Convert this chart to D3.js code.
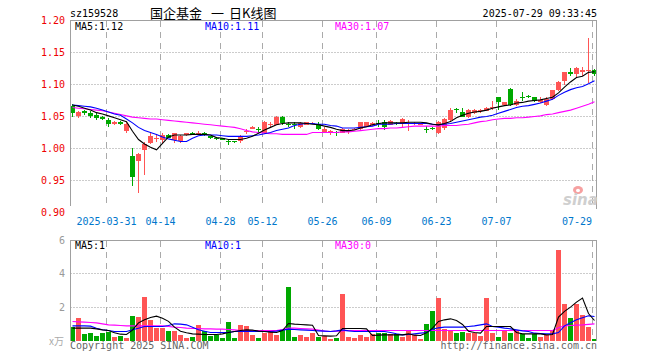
<!DOCTYPE html>
<html><head><meta charset="utf-8">
<script src="https://cdn.jsdelivr.net/npm/d3@7"></script>
<style>
body{margin:0;background:#fff}
svg{display:block}
text{font-family:"DejaVu Sans Mono",monospace;font-size:10px}
</style>
</head><body>
<svg id="c" width="660" height="360"></svg>
<script>
const code = "sz159528";
const titleParts = ["国企基金","一","日K线图"];
const stamp = "2025-07-29 09:33:45";

const dates = [
 "03-21","03-24","03-25","03-26","03-27","03-28","03-31",
 "04-01","04-02","04-03","04-07","04-08","04-09","04-10","04-11","04-14","04-15","04-16","04-17","04-18",
 "04-21","04-22","04-23","04-24","04-25","04-28","04-29","04-30",
 "05-06","05-07","05-08","05-09","05-12","05-13","05-14","05-15","05-16","05-19","05-20","05-21","05-22","05-23",
 "05-26","05-27","05-28","05-29","05-30",
 "06-03","06-04","06-05","06-06","06-09","06-10","06-11","06-12","06-13","06-16","06-17","06-18","06-19","06-20",
 "06-23","06-24","06-25","06-26","06-27","06-30",
 "07-01","07-02","07-03","07-04","07-07","07-08","07-09","07-10","07-11","07-14","07-15","07-16","07-17","07-18",
 "07-21","07-22","07-23","07-24","07-25","07-28","07-29"];

const openP = [1.067,1.051,1.058,1.056,1.052,1.050,1.045,1.039,1.041,1.027,
 0.989,0.980,0.997,1.008,1.016,1.014,1.021,1.014,1.011,1.021,
 1.024,1.024,1.025,1.019,1.016,1.016,1.011,1.011,1.011,1.026,
 1.031,1.031,1.024,1.037,1.037,1.050,1.039,1.038,1.034,1.037,
 1.039,1.038,1.026,1.024,1.026,1.025,1.026,1.030,1.030,1.034,
 1.036,1.040,1.041,1.037,1.040,1.040,1.038,1.038,1.037,1.031,
 1.032,1.024,1.032,1.044,1.061,1.057,1.050,1.055,1.059,1.059,
 1.064,1.080,1.068,1.093,1.068,1.081,1.082,1.080,1.072,1.068,
 1.077,1.091,1.106,1.119,1.117,1.119,1.122,1.123];
const closeP = [1.056,1.057,1.056,1.051,1.048,1.046,1.038,1.041,1.039,1.038,
 0.956,0.992,1.007,1.019,1.017,1.021,1.017,1.024,1.020,1.024,
 1.023,1.025,1.021,1.016,1.015,1.014,1.010,1.010,1.020,1.027,
 1.034,1.030,1.042,1.038,1.050,1.040,1.038,1.037,1.040,1.041,
 1.040,1.030,1.030,1.028,1.025,1.031,1.029,1.031,1.041,1.041,
 1.040,1.038,1.034,1.043,1.038,1.046,1.040,1.040,1.038,1.030,
 1.030,1.042,1.046,1.060,1.060,1.050,1.060,1.060,1.060,1.064,
 1.065,1.072,1.072,1.068,1.075,1.079,1.080,1.074,1.076,1.078,
 1.091,1.104,1.119,1.117,1.126,1.122,1.123,1.116];
const highP = [1.070,1.058,1.060,1.058,1.055,1.051,1.047,1.043,1.043,1.041,
 1.001,0.993,1.010,1.025,1.021,1.025,1.022,1.025,1.021,1.025,
 1.026,1.027,1.026,1.020,1.018,1.017,1.013,1.012,1.021,1.030,
 1.035,1.033,1.043,1.041,1.051,1.051,1.042,1.041,1.042,1.042,
 1.042,1.041,1.033,1.029,1.027,1.032,1.030,1.032,1.042,1.042,
 1.041,1.044,1.045,1.044,1.041,1.047,1.044,1.041,1.039,1.035,
 1.033,1.043,1.047,1.063,1.063,1.064,1.061,1.061,1.062,1.065,
 1.074,1.081,1.073,1.094,1.077,1.089,1.083,1.081,1.081,1.080,
 1.092,1.105,1.120,1.126,1.127,1.128,1.172,1.124];
const lowP = [1.050,1.047,1.053,1.048,1.045,1.044,1.033,1.037,1.036,1.025,
 0.941,0.931,0.959,1.007,1.010,1.008,1.016,1.009,1.008,1.020,
 1.021,1.022,1.020,1.015,1.013,1.013,1.006,1.008,1.009,1.023,
 1.030,1.025,1.022,1.034,1.036,1.036,1.033,1.030,1.032,1.036,
 1.038,1.029,1.025,1.021,1.019,1.024,1.022,1.029,1.029,1.033,
 1.035,1.034,1.029,1.036,1.037,1.034,1.028,1.037,1.036,1.025,
 1.029,1.023,1.029,1.043,1.055,1.049,1.048,1.054,1.055,1.058,
 1.060,1.060,1.066,1.066,1.066,1.074,1.079,1.073,1.071,1.067,
 1.076,1.090,1.100,1.114,1.112,1.114,1.102,1.114];

const ma5 = [1.068,1.066,1.063,1.060,1.056,1.054,1.051,1.048,1.045,1.042,
 1.027,1.014,1.007,1.002,0.998,1.008,1.018,1.021,1.021,1.021,
 1.022,1.022,1.022,1.021,1.017,1.016,1.014,1.014,1.014,1.016,
 1.019,1.024,1.029,1.033,1.037,1.039,1.040,1.040,1.040,1.039,
 1.038,1.037,1.035,1.033,1.030,1.028,1.028,1.029,1.032,1.034,
 1.037,1.039,1.040,1.040,1.040,1.040,1.041,1.041,1.041,1.040,
 1.038,1.037,1.039,1.042,1.048,1.052,1.055,1.057,1.058,1.060,
 1.063,1.065,1.067,1.068,1.071,1.072,1.074,1.075,1.076,1.078,
 1.080,1.087,1.096,1.104,1.111,1.113,1.119,1.120];
const ma10 = [1.068,1.067,1.066,1.065,1.063,1.060,1.057,1.054,1.052,1.046,
 1.040,1.033,1.028,1.025,1.022,1.018,1.015,1.013,1.011,1.011,
 1.016,1.020,1.021,1.021,1.021,1.020,1.019,1.019,1.019,1.019,
 1.020,1.021,1.023,1.025,1.028,1.030,1.032,1.036,1.038,1.039,
 1.039,1.038,1.038,1.036,1.035,1.032,1.032,1.032,1.033,1.034,
 1.035,1.038,1.038,1.038,1.039,1.039,1.039,1.039,1.039,1.039,
 1.038,1.037,1.038,1.039,1.041,1.043,1.045,1.047,1.049,1.050,
 1.052,1.055,1.058,1.061,1.064,1.066,1.067,1.069,1.071,1.074,
 1.077,1.083,1.088,1.092,1.095,1.097,1.101,1.106];
const ma30 = [1.064,1.063,1.062,1.061,1.060,1.059,1.057,1.055,1.053,1.051,
 1.049,1.048,1.047,1.046,1.046,1.045,1.044,1.043,1.042,1.041,
 1.040,1.039,1.038,1.037,1.036,1.035,1.034,1.033,1.031,1.028,
 1.026,1.025,1.024,1.023,1.023,1.022,1.022,1.022,1.022,1.022,
 1.025,1.025,1.025,1.025,1.025,1.026,1.026,1.027,1.028,1.029,
 1.030,1.031,1.031,1.032,1.032,1.033,1.034,1.035,1.035,1.035,
 1.035,1.035,1.036,1.036,1.036,1.037,1.038,1.040,1.042,1.043,
 1.045,1.046,1.047,1.047,1.048,1.048,1.049,1.050,1.051,1.053,
 1.054,1.056,1.058,1.060,1.063,1.066,1.069,1.073];

const volume = [0.80,1.36,0.40,0.46,0.28,0.46,0.54,0.20,0.28,0.16,
 1.48,1.42,2.62,1.24,0.76,0.76,0.58,0.58,0.34,0.16,
 0.22,0.92,0.58,0.28,0.34,0.16,1.12,0.16,0.94,0.88,
 0.34,0.16,0.48,0.58,0.34,0.64,3.22,0.22,0.34,0.22,
 0.46,0.22,0.28,0.10,0.16,2.80,0.22,0.16,0.34,0.22,
 0.40,0.48,0.48,0.40,0.40,0.24,0.64,0.34,0.10,1.00,
 1.78,2.56,0.70,0.58,0.46,0.52,0.46,0.46,0.28,2.56,
 0.46,0.22,0.64,0.46,0.64,0.40,0.16,0.40,0.22,0.34,
 0.64,5.44,2.20,1.36,2.20,1.54,0.82,0.10];
const vma5 = [0.74,0.74,0.74,0.74,0.70,0.64,0.60,0.46,0.38,0.36,
 0.62,1.06,1.25,1.38,1.46,1.34,1.15,0.80,0.56,0.46,
 0.40,0.38,0.36,0.36,0.36,0.40,0.48,0.54,0.60,0.64,
 0.62,0.56,0.54,0.50,0.48,0.60,1.02,0.98,0.96,0.94,
 0.92,0.30,0.28,0.26,0.28,0.72,0.72,0.72,0.72,0.70,
 0.30,0.32,0.34,0.34,0.34,0.34,0.40,0.32,0.30,0.46,
 0.74,1.14,1.24,1.30,1.20,0.96,0.56,0.48,0.44,0.84,
 0.84,0.84,0.84,0.84,0.48,0.40,0.40,0.40,0.40,0.34,
 0.36,1.40,1.75,2.00,2.30,2.55,1.62,1.20];
const vma10 = [0.88,0.88,0.88,0.86,0.74,0.64,0.60,0.54,0.54,0.54,
 0.64,0.74,0.84,0.84,0.84,0.84,0.90,1.00,0.98,0.94,
 0.80,0.64,0.56,0.48,0.48,0.48,0.48,0.54,0.54,0.54,
 0.54,0.54,0.54,0.54,0.56,0.62,0.68,0.66,0.64,0.62,
 0.60,0.58,0.56,0.54,0.58,0.64,0.58,0.54,0.54,0.54,
 0.54,0.54,0.54,0.48,0.40,0.34,0.36,0.40,0.44,0.48,
 0.68,0.76,0.80,0.80,0.80,0.80,0.84,0.88,0.94,1.00,
 0.84,0.80,0.74,0.70,0.64,0.58,0.54,0.44,0.42,0.40,
 0.40,0.48,0.88,1.06,1.24,1.36,1.48,1.44];
const vma30 = [1.14,1.12,1.10,1.08,1.06,1.00,0.94,0.92,0.90,0.88,
 0.88,0.88,0.88,0.88,0.88,0.88,0.84,0.80,0.78,0.74,
 0.72,0.72,0.70,0.70,0.68,0.68,0.66,0.64,0.60,0.60,
 0.60,0.60,0.60,0.60,0.60,0.66,0.74,0.74,0.72,0.70,
 0.68,0.62,0.56,0.54,0.56,0.58,0.60,0.60,0.60,0.60,
 0.60,0.60,0.60,0.60,0.60,0.60,0.60,0.60,0.60,0.60,
 0.60,0.60,0.60,0.60,0.60,0.60,0.60,0.60,0.60,0.60,
 0.60,0.60,0.60,0.60,0.60,0.60,0.60,0.60,0.60,0.60,
 0.60,0.76,0.88,0.90,0.92,0.94,0.97,1.00];

const priceTicks = [1.20,1.15,1.10,1.05,1.00,0.95,0.90];
const volTicks = [6,4,2];
const volUnit = "x万";
const tickDates = ["03-31","04-14","04-28","05-12","05-26","06-09","06-23","07-07","07-29"];
const tickLabels = ["2025-03-31","04-14","04-28","05-12","05-26","06-09","06-23","07-07","07-29"];
const maLabels = ["MA5:1.12","MA10:1.11","MA30:1.07"];
const volMaLabels = ["MA5:1","MA10:1","MA30:0"];

const RED = "#ff5555", GREEN = "#00a800";
const maColors = ["#000000","#0000ff","#ff00ff"];
const GRID = "#aaaaaa", BORDER = "#a0a0a0";

const svg = d3.select("#c");
const x = d3.scalePoint().domain(dates).range([72.5, 594.5]);
const y = d3.scaleLinear().domain([0.90, 1.20]).range([212.5, 20.5]);
const yv = d3.scaleLinear().domain([0, 6]).range([340.5, 240.5]);
const L = 70.5, R = 596.5;
const crisp = v => Math.round(v - 0.5) + 0.5;

const defs = svg.append("defs");
defs.append("clipPath").attr("id","cm").append("rect").attr("x",71).attr("y",21).attr("width",525).attr("height",188);
defs.append("clipPath").attr("id","cv").append("rect").attr("x",71).attr("y",241).attr("width",525).attr("height",100);

// header
svg.append("text").attr("x",70).attr("y",17).text(code);
const tStyle = s => s.style("font-family","'Noto Sans CJK SC',sans-serif").style("font-size","13px");
tStyle(svg.append("text").attr("x",150).attr("y",18).text(titleParts[0]));
tStyle(svg.append("text").attr("x",211).attr("y",18).text(titleParts[1]));
tStyle(svg.append("text").attr("x",229).attr("y",18).text(titleParts[2]));
svg.append("text").attr("x",597).attr("y",17).attr("text-anchor","end").text(stamp);

// ===== main panel grid =====
svg.selectAll(".hg").data(priceTicks.slice(1, -1)).join("line")
  .attr("x1",L).attr("x2",R).attr("y1",d=>crisp(y(d))).attr("y2",d=>crisp(y(d)))
  .attr("stroke","#999").attr("stroke-dasharray","1,2");
svg.selectAll(".vg").data(tickDates).join("line")
  .attr("x1",d=>x(d)-2).attr("x2",d=>x(d)-2).attr("y1",21).attr("y2",207)
  .attr("stroke",GRID).attr("stroke-dasharray","6,5");

// candles
const idx = d3.range(dates.length);
const gc = svg.append("g").attr("clip-path","url(#cm)").attr("shape-rendering","crispEdges");
const col = i => closeP[i] >= openP[i] ? RED : GREEN;
gc.selectAll(".w").data(idx).join("line")
  .attr("x1",i=>x(dates[i])).attr("x2",i=>x(dates[i]))
  .attr("y1",i=>y(highP[i])).attr("y2",i=>y(lowP[i]))
  .attr("stroke",col);
gc.selectAll(".b").data(idx).join("rect")
  .attr("x",i=>x(dates[i])-2.5).attr("width",5)
  .attr("y",i=>y(Math.max(openP[i],closeP[i])))
  .attr("height",i=>Math.max(1, y(Math.min(openP[i],closeP[i])) - y(Math.max(openP[i],closeP[i]))))
  .attr("fill",col);

// MA lines
const gl = svg.append("g").attr("clip-path","url(#cm)");
[[ma30,maColors[2]],[ma10,maColors[1]],[ma5,maColors[0]]].forEach(([arr,c]) => {
  gl.append("path").attr("d", d3.line().x((v,i)=>x(dates[i])).y(v=>y(v))(arr))
    .attr("fill","none").attr("stroke",c).attr("stroke-width",1.1);
});

// main border
svg.append("line").attr("x1",70).attr("x2",597).attr("y1",20.5).attr("y2",20.5).attr("stroke",BORDER);
svg.append("line").attr("x1",L).attr("x2",L).attr("y1",20).attr("y2",206).attr("stroke",BORDER);
svg.append("line").attr("x1",R).attr("x2",R).attr("y1",20).attr("y2",209).attr("stroke",BORDER);

// price labels
svg.selectAll(".pl").data(priceTicks).join("text")
  .attr("x",65).attr("y",d=>y(d)+3.5).attr("text-anchor","end").attr("fill","#ee0000")
  .text(d=>d.toFixed(2));

// MA labels
[75,205,335].forEach((px,k)=>{
  svg.append("text").attr("x",px).attr("y",30).attr("fill",maColors[k]).text(maLabels[k]);
  svg.append("text").attr("x",px).attr("y",249).attr("fill",maColors[k]).text(volMaLabels[k]);
});

// date labels
svg.selectAll(".dl").data(tickDates).join("text")
  .attr("x",(d,i)=> i===tickDates.length-1 ? x(d)-2.5 : x(d)-2)
  .attr("y",225).attr("fill","#0077cc")
  .attr("text-anchor",(d,i)=> i===tickDates.length-1 ? "end" : "middle")
  .text((d,i)=>tickLabels[i]);

// sina watermark
const wm = svg.append("g");
wm.append("ellipse").attr("cx",578).attr("cy",190).attr("rx",5).attr("ry",4).attr("fill","#f6a0a0");
wm.append("ellipse").attr("cx",578).attr("cy",190.5).attr("rx",2).attr("ry",1.8).attr("fill","#fff");
wm.append("text").attr("x",563).attr("y",205).style("font-family","'DejaVu Sans',sans-serif")
  .style("font-size","15px").style("font-weight","bold").style("font-style","italic")
  .attr("fill","#cfcfcf").text("sina");

// ===== volume panel =====
svg.selectAll(".vhg").data([4,2]).join("line")
  .attr("x1",L).attr("x2",R).attr("y1",d=>crisp(yv(d))).attr("y2",d=>crisp(yv(d)))
  .attr("stroke","#999").attr("stroke-dasharray","1,2");
svg.selectAll(".vvg").data(tickDates).join("line")
  .attr("x1",d=>x(d)-2).attr("x2",d=>x(d)-2).attr("y1",241).attr("y2",340)
  .attr("stroke",GRID).attr("stroke-dasharray","6,5");

const gv = svg.append("g").attr("clip-path","url(#cv)").attr("shape-rendering","crispEdges");
gv.selectAll(".vb").data(idx).join("rect")
  .attr("x",i=>x(dates[i])-2.5).attr("width",5)
  .attr("y",i=>yv(volume[i])).attr("height",i=>yv(0)-yv(volume[i]))
  .attr("fill",col);

const gvl = svg.append("g").attr("clip-path","url(#cv)");
[[vma30,maColors[2]],[vma10,maColors[1]],[vma5,maColors[0]]].forEach(([arr,c])=>{
  gvl.append("path").attr("d", d3.line().x((v,i)=>x(dates[i])).y(v=>yv(v))(arr))
    .attr("fill","none").attr("stroke",c).attr("stroke-width",1.1);
});

svg.append("line").attr("x1",70).attr("x2",597).attr("y1",240.5).attr("y2",240.5).attr("stroke",BORDER);
svg.append("line").attr("x1",L).attr("x2",L).attr("y1",240).attr("y2",341).attr("stroke",BORDER);
svg.append("line").attr("x1",R).attr("x2",R).attr("y1",240).attr("y2",341).attr("stroke",BORDER);

svg.selectAll(".vl").data(volTicks).join("text")
  .attr("x",65).attr("y",d=>yv(d)+3.5).attr("text-anchor","end").attr("fill","#999")
  .text(d=>d);
svg.append("text").attr("x",64).attr("y",345).attr("text-anchor","end").attr("fill","#aaa")
  .style("font-family","'Noto Sans CJK SC',sans-serif").style("font-size","10px").text(volUnit);

svg.append("text").attr("x",70).attr("y",349).attr("fill","#666").text("Copyright 2025 SINA.COM");
svg.append("text").attr("x",597).attr("y",349).attr("text-anchor","end").attr("fill","#666").text("http://finance.sina.com.cn");
</script>
</body></html>
